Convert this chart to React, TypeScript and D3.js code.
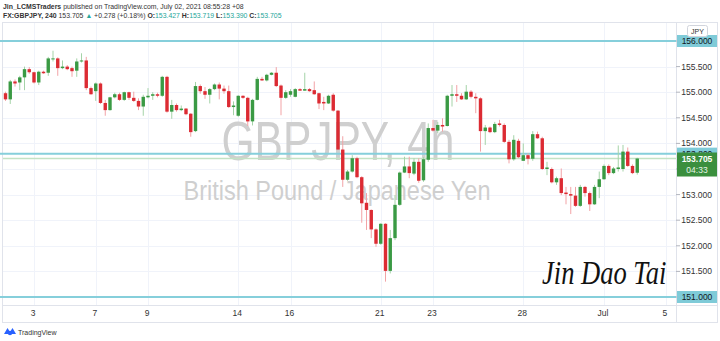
import React from "react";
import * as d3 from "d3";

const opens = [154.98,154.86,155.21,155.19,155.29,155.45,155.39,155.19,155.40,155.38,155.65,155.66,155.47,155.50,155.47,155.42,155.60,155.62,155.08,155.02,155.17,154.79,154.65,154.90,154.96,154.85,155.00,154.89,154.83,154.72,154.90,154.93,154.96,154.93,155.30,154.62,154.75,154.65,154.68,154.58,154.24,155.12,155.02,154.95,155.06,155.15,155.07,155.02,154.71,154.54,154.93,154.89,154.43,154.85,155.26,155.23,155.34,155.38,155.13,154.89,154.95,154.91,155.06,155.03,155.06,155.04,154.98,154.81,154.78,154.95,154.64,153.88,153.29,153.45,153.71,153.34,152.84,152.70,152.32,152.04,152.43,151.51,152.15,152.80,153.43,153.55,153.41,153.64,153.28,153.68,154.30,154.25,154.36,154.34,154.93,154.96,154.93,154.86,155.01,154.91,154.88,154.24,154.31,154.22,154.39,154.36,154.03,153.69,154.05,153.66,153.77,153.70,154.18,154.10,153.50,153.50,153.24,153.32,153.04,153.01,152.98,152.78,153.15,153.03,152.81,153.15,153.30,153.56,153.42,153.50,153.50,153.84,153.56,153.427];
const highs = [155.01,155.24,155.25,155.32,155.50,155.49,155.40,155.42,155.42,155.69,155.81,155.68,155.62,155.53,155.50,155.66,155.76,155.69,155.11,155.19,155.19,154.85,154.91,154.99,154.99,155.01,155.01,155.01,154.88,154.95,155.08,155.00,154.99,155.32,155.32,154.85,154.78,154.74,154.69,154.59,155.20,155.15,155.10,155.08,155.17,155.19,155.13,155.13,154.82,154.94,154.94,154.91,154.87,155.30,155.30,155.36,155.39,155.49,155.15,155.04,155.06,155.08,155.08,155.38,155.08,155.21,154.99,154.91,154.95,154.98,154.65,154.14,153.48,153.77,153.74,153.36,153.03,152.71,152.34,152.44,152.44,152.31,152.99,153.45,153.74,153.74,153.71,153.71,153.73,154.39,154.46,154.42,154.49,154.95,155.14,155.14,154.98,155.14,155.04,154.98,154.90,154.36,154.33,154.42,154.46,154.39,154.07,154.16,154.09,154.00,153.81,154.24,154.23,154.13,153.64,153.53,153.35,153.51,153.15,153.15,153.15,153.19,153.17,153.06,153.19,153.45,153.59,153.59,153.54,153.96,153.97,153.92,153.59,153.719];
const lows = [154.83,154.77,155.11,155.04,155.04,155.36,155.17,155.14,155.36,155.32,155.60,155.32,155.45,155.43,155.30,155.30,155.58,155.04,154.95,154.83,154.77,154.54,154.64,154.88,154.83,154.83,154.85,154.81,154.65,154.54,154.88,154.85,154.90,154.91,154.60,154.48,154.62,154.63,154.55,154.13,154.22,154.97,154.87,154.78,155.04,154.86,154.97,154.69,154.55,154.52,154.87,154.34,154.35,154.84,155.22,155.21,155.33,155.10,154.55,154.87,154.91,154.90,155.03,155.03,155.01,154.95,154.67,154.65,154.77,154.62,153.87,153.15,153.27,153.43,153.32,152.45,152.31,152.15,151.98,152.02,151.30,151.46,152.11,152.78,153.42,153.32,153.38,153.23,153.25,153.64,154.23,154.20,154.23,154.33,154.72,154.81,154.85,154.85,154.88,154.59,153.84,153.97,154.20,154.20,154.33,154.01,153.61,153.66,153.71,153.66,153.59,153.66,154.09,153.48,153.38,153.22,153.19,152.99,152.81,152.62,152.76,152.76,152.96,152.68,152.80,152.93,153.29,153.38,153.40,153.45,153.45,153.54,153.40,153.390];
const closes = [154.86,155.21,155.17,155.29,155.45,155.39,155.19,155.40,155.37,155.66,155.66,155.47,155.50,155.45,155.41,155.60,155.62,155.08,154.96,155.17,154.79,154.65,154.90,154.96,154.85,155.00,154.89,154.83,154.72,154.91,154.93,154.96,154.93,155.30,154.62,154.75,154.65,154.68,154.57,154.22,155.12,155.02,154.95,155.06,155.15,155.07,155.02,154.71,154.74,154.93,154.89,154.43,154.85,155.26,155.23,155.34,155.38,155.12,154.89,155.00,155.02,155.06,155.03,155.06,155.02,154.96,154.78,154.78,154.93,154.64,153.88,153.29,153.45,153.71,153.34,152.83,152.70,152.32,152.04,152.43,151.51,152.15,152.80,153.43,153.55,153.42,153.64,153.27,153.69,154.30,154.25,154.36,154.33,154.93,154.96,154.93,154.86,155.01,154.91,154.88,154.24,154.31,154.22,154.38,154.36,154.03,153.69,154.07,153.73,153.77,153.70,154.18,154.10,153.50,153.53,153.24,153.32,153.03,153.01,152.98,152.78,153.15,153.03,152.81,153.15,153.30,153.56,153.42,153.51,153.53,153.84,153.56,153.42,153.705];

const timeLabels = ["3", "7", "9", "14", "16", "21", "23", "28", "Jul", "5"];
const timeLabelBars = [6, 19, 30, 49, 60, 79, 90, 109, 126, 139];
const priceTicks = [151.5, 152, 152.5, 153, 154, 154.5, 155, 155.5];
const gridTicks = [151, 151.5, 152, 152.5, 153, 153.5, 154, 154.5, 155, 155.5, 156];
const levelLines = [156.0, 153.8, 151.0];
const lastPrice = 153.705;
const countdown = "04:33";

const GREEN = "#3a9a44";
const RED = "#dc2b33";
const GREEN_WICK = "#a5d3a8";
const RED_WICK = "#f2a3a6";
const LEVEL = "#86cfdb";
const FONT = "'Liberation Sans', Arial, sans-serif";

export default function App() {
  const W = 720, H = 341;
  const plotRight = 676, plotTop = 22, plotBottom = 305;
  const x = d3.scaleLinear().domain([0, 133]).range([5.5, 637.25]);
  const y = d3.scaleLinear().domain([151, 156]).range([297, 41]);
  const bodyW = 3.4;
  const fmt = d3.format(".3f");

  return (
    <svg width={W} height={H} style={{ position: "absolute", left: 0, top: 0, background: "#fff" }} fontFamily={FONT}>
      <rect x={0} y={0} width={W} height={H} fill="#fff" />
      {/* header */}
      <text x={3} y={8.5} fontSize={6.9} fill="#333">
        <tspan fontWeight="bold">Jin_LCMSTraders</tspan>
        <tspan> published on TradingView.com, July 02, 2021 08:55:28 +08</tspan>
      </text>
      <text x={3} y={18} fontSize={6.9} fill="#333">
        <tspan fontWeight="bold">FX:GBPJPY, 240</tspan>
        <tspan> 153.705 </tspan>
        <tspan fill="#26a69a">▲</tspan>
        <tspan> +0.278 (+0.18%) </tspan>
        <tspan fontWeight="bold">O:</tspan><tspan fill="#26a69a">153.427 </tspan>
        <tspan fontWeight="bold">H:</tspan><tspan fill="#26a69a">153.719 </tspan>
        <tspan fontWeight="bold">L:</tspan><tspan fill="#26a69a">153.390 </tspan>
        <tspan fontWeight="bold">C:</tspan><tspan fill="#26a69a">153.705</tspan>
      </text>

      {/* frame */}
      <rect x={2.5} y={plotTop + 0.5} width={715} height={300} fill="none" stroke="#e0e3eb" />
      <line x1={plotRight + 0.5} x2={plotRight + 0.5} y1={plotTop} y2={322} stroke="#e0e3eb" />
      <line x1={2.5} x2={717.5} y1={plotBottom + 0.5} y2={plotBottom + 0.5} stroke="#e0e3eb" />

      {/* grid */}
      {gridTicks.map((p) => (
        <line key={"hg" + p} x1={3} x2={plotRight} y1={Math.round(y(p)) + 0.5} y2={Math.round(y(p)) + 0.5} stroke="#f0f3fa" />
      ))}
      {timeLabelBars.map((b) => (
        <line key={"vg" + b} x1={Math.round(x(b)) + 0.5} x2={Math.round(x(b)) + 0.5} y1={plotTop + 1} y2={plotBottom} stroke="#f0f3fa" />
      ))}

      {/* watermark */}
      <text x={338} y={160} fontSize={55} fill="#cfcfcf" textAnchor="middle" textLength={233} lengthAdjust="spacingAndGlyphs">GBPJPY, 4h</text>
      <text x={337} y={200} fontSize={27} fill="#cfcfcf" textAnchor="middle" textLength={307} lengthAdjust="spacingAndGlyphs">British Pound / Japanese Yen</text>

      {/* current price line */}
      <line x1={3} x2={plotRight} y1={y(lastPrice)} y2={y(lastPrice)} stroke="#c3e2c4" strokeWidth={1.5} />

      {/* level lines */}
      {levelLines.map((p) => (
        <line key={"lv" + p} x1={0} x2={plotRight} y1={y(p)} y2={y(p)} stroke={LEVEL} strokeWidth={2} />
      ))}

      {/* candles */}
      {opens.map((o, i) => {
        const c = closes[i];
        const up = c >= o;
        const cx = x(i);
        const top = y(Math.max(o, c));
        const bot = y(Math.min(o, c));
        return (
          <g key={"c" + i}>
            <line x1={cx} x2={cx} y1={y(highs[i])} y2={y(lows[i])} stroke={up ? GREEN_WICK : RED_WICK} strokeWidth={1} />
            <rect x={cx - bodyW / 2} y={top} width={bodyW} height={Math.max(1, bot - top)} fill={up ? GREEN : RED} />
          </g>
        );
      })}

      {/* signature */}
      <text transform="translate(542,284) scale(0.78,1)" x={0} y={0} fontSize={34} fontStyle="italic" fontFamily="'Liberation Serif', serif" fill="#111">Jin Dao Tai</text>

      {/* price axis */}
      {gridTicks.map((p) => (
        <line key={"tk" + p} x1={plotRight} x2={plotRight + 4} y1={y(p)} y2={y(p)} stroke="#b2b5be" />
      ))}
      {priceTicks.map((p) => (
        <text key={"pt" + p} x={712} y={y(p) + 3} fontSize={8.5} fill="#333" textAnchor="end">{fmt(p)}</text>
      ))}
      {levelLines.map((p) => (
        <g key={"lb" + p}>
          <rect x={677} y={y(p) - 6} width={40} height={12} fill="#7fcbd8" />
          <text x={697} y={y(p) + 3} fontSize={8.5} fill="#131722" textAnchor="middle">{fmt(p)}</text>
        </g>
      ))}
      <rect x={677} y={y(lastPrice) - 6} width={40} height={24} fill="#3a8f3e" />
      <text x={697} y={y(lastPrice) + 3} fontSize={8.5} fill="#fff" textAnchor="middle" fontWeight="bold">{fmt(lastPrice)}</text>
      <text x={697} y={y(lastPrice) + 14} fontSize={8.5} fill="#e8f5e9" textAnchor="middle">{countdown}</text>
      <rect x={687.5} y={25.5} width={20} height={11} rx={2} fill="#fff" stroke="#d1d4dc" />
      <text x={697.5} y={33.5} fontSize={7} fill="#333" textAnchor="middle">JPY</text>

      {/* time axis */}
      {timeLabels.map((t, k) => (
        <text key={"tl" + t} x={x(timeLabelBars[k]) - 1} y={316} fontSize={8.5} fill="#333" textAnchor="middle">{t}</text>
      ))}

      {/* TradingView logo */}
      <g transform="translate(4,327)">
        <path d="M0,7 L3.5,1 L6,5 L8.5,1 L12,7 Z" fill="#2962ff" />
        <circle cx={6} cy={6} r={2.2} fill="#2962ff" />
        <text x={14} y={8} fontSize={7} fill="#333">TradingView</text>
      </g>
    </svg>
  );
}
